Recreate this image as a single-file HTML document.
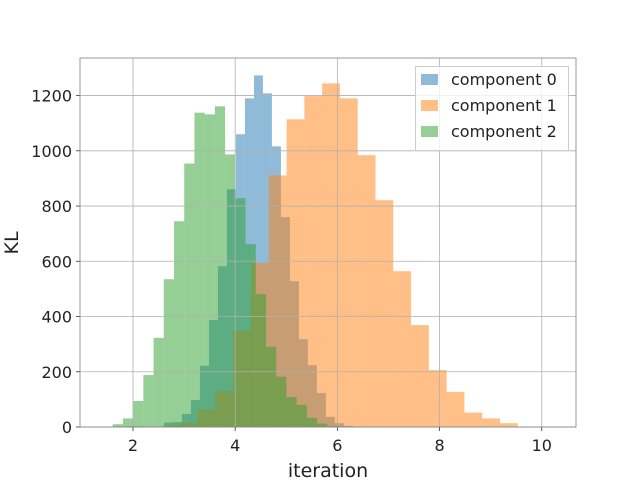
<!DOCTYPE html>
<html><head><meta charset="utf-8"><style>
html,body{margin:0;padding:0;background:#fff;}
svg text{font-family:"DejaVu Sans","Liberation Sans",sans-serif;fill:#222;}
</style></head><body>
<svg id="chart" width="640" height="480" viewBox="0 0 640 480" xmlns="http://www.w3.org/2000/svg">
<rect x="0" y="0" width="640" height="480" fill="#fff"/>
<g id="bars"></g>
<g id="grid"></g>
<g id="axes"></g>
<text x="328" y="477" font-size="19" text-anchor="middle">iteration</text>
<text x="0" y="0" font-size="19" text-anchor="middle" transform="translate(18,243) rotate(-90)">KL</text>
<g>
<rect x="415.5" y="66.5" width="153" height="84" fill="#fff" fill-opacity="0.8" stroke="#ccc"/>
<g><rect x="421" y="74" width="17" height="11" fill="#1f77b4" fill-opacity="0.5"/><text x="451" y="85" font-size="16">component 0</text></g>
<g><rect x="421" y="100" width="17" height="11" fill="#ff7f0e" fill-opacity="0.5"/><text x="451" y="111" font-size="16">component 1</text></g>
<g><rect x="421" y="126" width="17" height="11" fill="#2ca02c" fill-opacity="0.5"/><text x="451" y="137" font-size="16">component 2</text></g>
</g>
</svg>
<script>
const blueStart = 2.607, blueWidth = 0.176;
const blueCounts = [16,18,47,98,222,387,582,861,1060,1190,1273,1208,1016,760,528,318,224,123,37,14,4,2];
const orangeStart = 1.874, orangeWidth = 0.348;
const orangeCounts = [3,1,5,14,63,130,348,594,911,1114,1198,1244,1190,984,821,564,369,206,127,52,31,14];
const greenStart = 1.603, greenWidth = 0.2;
const greenCounts = [10,31,94,188,323,535,745,954,1138,1132,1161,987,828,662,481,290,182,108,80,33,12,3];
const xTicks = [2,4,6,8,10];
const yTicks = [0,200,400,600,800,1000,1200];

const L=80,R=576,T=58,B=427;
const xMin=0.963,xMax=10.67,yMax=1336;
const X=v=>L+(v-xMin)/(xMax-xMin)*(R-L);
const Y=v=>B-v/yMax*(B-T);
const NS="http://www.w3.org/2000/svg";
function mk(tag,attrs,parent){const e=document.createElementNS(NS,tag);for(const k in attrs)e.setAttribute(k,attrs[k]);parent.appendChild(e);return e;}
const bars=document.getElementById('bars');
function hist(start,width,counts,color,name){
  counts.forEach((c,i)=>{
    const x0=X(start+i*width),x1=X(start+(i+1)*width);
    const r=mk('rect',{x:x0,y:Y(c),width:x1-x0,height:B-Y(c),fill:color,'fill-opacity':0.5},bars);
    
    
  });
}
hist(blueStart,blueWidth,blueCounts,'#1f77b4','component-0');
hist(orangeStart,orangeWidth,orangeCounts,'#ff7f0e','component-1');
hist(greenStart,greenWidth,greenCounts,'#2ca02c','component-2');
const grid=document.getElementById('grid'),axes=document.getElementById('axes');
xTicks.forEach(t=>{
  const x=X(t);
  const g=mk('line',{x1:x,x2:x,y1:T,y2:B,stroke:'#b0b0b0','stroke-width':0.8},grid);
  
  
  mk('line',{x1:x,x2:x,y1:B,y2:B+4,stroke:'#333','stroke-width':0.8},axes);
  const tx=mk('text',{x:x,y:B+24,'font-size':16,'text-anchor':'middle'},axes);
  tx.textContent=t;
  
  
});
yTicks.forEach(t=>{
  const y=Y(t);
  const g=mk('line',{x1:L,x2:R,y1:y,y2:y,stroke:'#b0b0b0','stroke-width':0.8},grid);
  
  
  mk('line',{x1:L-4,x2:L,y1:y,y2:y,stroke:'#333','stroke-width':0.8},axes);
  const tx=mk('text',{x:L-8,y:y+6,'font-size':16,'text-anchor':'end'},axes);
  tx.textContent=t;
  
  
});
const fr=mk('rect',{x:L,y:T,width:R-L,height:B-T,fill:'none',stroke:'#808080','stroke-width':0.8},axes);


</script>
</body></html>
